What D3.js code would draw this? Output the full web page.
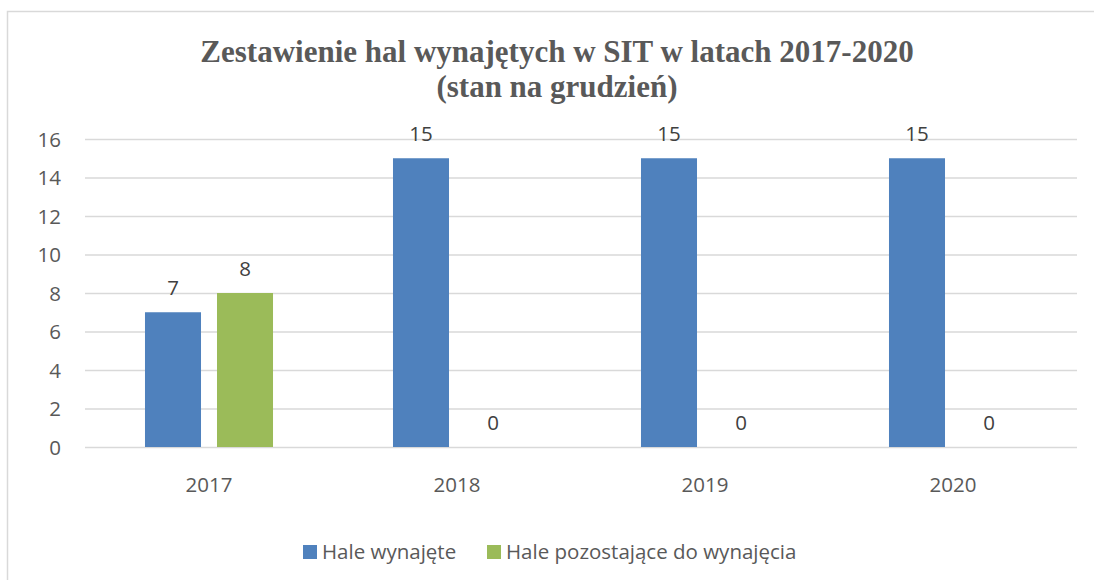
<!DOCTYPE html>
<head>
    <title>Zestawienie hal wynajętych</title>
    <meta charset="utf-8" />
</head>

<style>
    body {
        margin: 0;
        background-color: #FFFFFF;
    }

    .grid line {
        stroke: #D9D9D9;
        stroke-width: 1.5px;
    }

    .grid path {
        display: none;
    }

    .axis text, .label, .legend text {
        fill: #595959;
        font-family: "Open Sans";
        font-size: 20.5px;
    }

    .label {
        fill: #404040;
    }

    .axis path, .axis line {
        display: none;
    }
</style>

<body>
    <svg id="chart" width="1094" height="580"></svg>
    <script src="https://d3js.org/d3.v7.min.js"></script>

    <script>
        // data
        var years = ["2017", "2018", "2019", "2020"];
        var seriesNames = ["Hale wynajęte", "Hale pozostające do wynajęcia"];
        var rented = [7, 15, 15, 15];
        var remaining = [8, 0, 0, 0];
        var yTicks = [0, 2, 4, 6, 8, 10, 12, 14, 16];
        var colors = ["#4F81BD", "#9BBB59"];

        var svg = d3.select("#chart");

        // chart frame (right and bottom edges fall outside the picture)
        svg.append("rect")
            .attr("x", 7.5)
            .attr("y", 11.5)
            .attr("width", 1200)
            .attr("height", 700)
            .attr("fill", "none")
            .attr("stroke", "#D9D9D9")
            .attr("stroke-width", 1.5);

        var margin = { top: 139, left: 85 };
        var width = 992, height = 308;

        var g = svg.append("g")
            .attr("transform", "translate(" + margin.left + "," + margin.top + ")");

        var x = d3.scaleBand().domain(years).range([0, width]);
        var xs = d3.scaleBand().domain(seriesNames).range([0, x.bandwidth()])
            .paddingInner(0.222).paddingOuter(0.833);
        var y = d3.scaleLinear().domain([0, 16]).range([height, 0]);

        g.append("g")
            .attr("class", "grid")
            .call(d3.axisLeft(y).tickValues(yTicks).tickSize(-width).tickFormat(""));

        g.append("g")
            .attr("class", "axis")
            .attr("transform", "translate(-21,0)")
            .call(d3.axisLeft(y).tickValues(yTicks).tickSize(0))
            .selectAll("text").attr("dy", "0.35em");

        g.append("g")
            .attr("class", "axis")
            .attr("transform", "translate(0," + height + ")")
            .call(d3.axisBottom(x).tickSize(0).tickPadding(30));

        var rows = years.map(function(yr, i) {
            return { year: yr, values: [rented[i], remaining[i]] };
        });

        var groups = g.selectAll(".year")
            .data(rows)
            .enter().append("g")
            .attr("transform", function(d) { return "translate(" + x(d.year) + ",0)"; });

        groups.selectAll("rect")
            .data(function(d) { return d.values.map(function(v, j) { return { s: seriesNames[j], v: v, j: j }; }); })
            .enter().append("rect")
            .attr("x", function(d) { return xs(d.s); })
            .attr("y", function(d) { return y(d.v); })
            .attr("width", xs.bandwidth())
            .attr("height", function(d) { return height - y(d.v); })
            .attr("fill", function(d) { return colors[d.j]; });

        groups.selectAll(".label")
            .data(function(d) { return d.values.map(function(v, j) { return { s: seriesNames[j], v: v }; }); })
            .enter().append("text")
            .attr("class", "label")
            .attr("text-anchor", "middle")
            .attr("x", function(d) { return xs(d.s) + xs.bandwidth() / 2; })
            .attr("y", function(d) { return y(d.v) - 17; })
            .text(function(d) { return d.v; });

        // title
        var title = svg.append("text")
            .attr("text-anchor", "middle")
            .attr("fill", "#595959")
            .attr("font-family", "Liberation Serif")
            .attr("font-weight", "bold")
            .attr("font-size", "31px");
        title.append("tspan").attr("x", 557).attr("y", 62)
            .text("Zestawienie hal wynajętych w SIT w latach 2017-2020");
        title.append("tspan").attr("x", 557).attr("y", 97)
            .text("(stan na grudzień)");

        // legend
        var legendX = [303, 487];
        var legend = svg.append("g").attr("class", "legend");
        var items = legend.selectAll("g")
            .data(seriesNames)
            .enter().append("g")
            .attr("transform", function(d, i) { return "translate(" + legendX[i] + ",545)"; });
        items.append("rect")
            .attr("width", 14).attr("height", 14)
            .attr("fill", function(d, i) { return colors[i]; });
        items.append("text")
            .attr("x", 19).attr("y", 14)
            .text(function(d) { return d; });
    </script>
</body>
